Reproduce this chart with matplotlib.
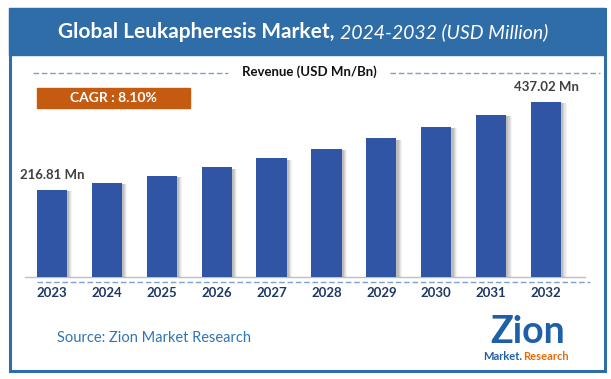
import matplotlib.pyplot as plt
from matplotlib.patches import Rectangle

plt.rcParams['font.family'] = ['Lato', 'DejaVu Sans']

# data
years = ['2023', '2024', '2025', '2026', '2027', '2028', '2029', '2030', '2031', '2032']
revenue = [216.81, 234.4, 253.4, 273.9, 296.1, 320.0, 345.9, 374.0, 404.3, 437.02]
first_label = '216.81 Mn'
last_label = '437.02 Mn'
cagr = 'CAGR : 8.10%'

W, H = 611, 379
fig = plt.figure(figsize=(W / 100, H / 100), dpi=100)

# full-figure overlay in pixel coords (y down)
bg = fig.add_axes([0, 0, 1, 1])
bg.set_xlim(0, W)
bg.set_ylim(H, 0)
bg.axis('off')

# outer frame and title band
bg.add_patch(Rectangle((9.5, 8.5), 595, 362, fill=False, ec='#2E6DA8', lw=2.2))
bg.add_patch(Rectangle((9, 8), 596, 47, color='#2E6DA8'))

t1 = bg.text(58, 32, 'Global Leukapheresis Market,', color='white', fontsize=15,
             fontweight='bold', va='center', ha='left')
fig.canvas.draw()
x_end = t1.get_window_extent().x1
bg.annotate('2024-2032 (USD Million)', xy=(x_end + 5, H - 32), xycoords='figure pixels',
            color='white', fontsize=14, fontstyle='italic', va='center', ha='left')

# revenue header with dashed lines
bg.text(309, 72, 'Revenue (USD Mn/Bn)', fontsize=9.5, fontweight='bold', color='#111111',
        ha='center', va='center')
bg.plot([33, 228], [73, 73], ls=(0, (4, 2)), color='#7F9FD0', lw=1)
bg.plot([390, 600], [73, 73], ls=(0, (4, 2)), color='#7F9FD0', lw=1)

# CAGR box
bg.add_patch(Rectangle((37, 88), 153, 20, color='#C55A11'))
bg.text(113, 98, cagr, color='white', fontsize=10, fontweight='bold', ha='center', va='center')

# baseline decoration
bg.plot([25, 585], [277, 277], color='#BFBFBF', lw=1)
bg.plot([37, 590], [282, 282], ls=(0, (4, 2)), color='#7F9FD0', lw=1)

# source
bg.text(57, 338, 'Source: Zion Market Research', fontsize=10.5, color='#2E75B6',
        ha='left', va='center')

# logo approximation
bg.text(528, 332, 'Zion', fontsize=27, fontweight='bold', color='#1F5FA8',
        ha='center', va='center')
bg.text(503, 356, 'Market.', fontsize=8, fontweight='bold', color='#1F5FA8',
        ha='center', va='center')
bg.text(546, 356, 'Research', fontsize=8, fontweight='bold', color='#E36C09',
        ha='center', va='center')

# bar chart axes
left_px, right_px = 25, 585
top_px, base_px = 80, 277
ax = fig.add_axes([left_px / W, 1 - base_px / H, (right_px - left_px) / W,
                   (base_px - top_px) / H])
ax.patch.set_alpha(0)
x = list(range(len(years)))
# soft shadow
for k, a in zip([0.10, 0.08, 0.06, 0.04], [0.08, 0.12, 0.18, 0.25]):
    ax.bar([i + k for i in x], [v - 3 for v in revenue], width=0.55, color='#7F7F7F',
           alpha=a)
ax.bar(x, revenue, width=0.55, color='#2F55A4', zorder=3)
ax.set_xlim(-0.49, 9.71)
ax.set_ylim(0, 492)
ax.axis('off')

ax.text(0, revenue[0] + 22, first_label, ha='center', va='bottom', fontsize=9.5,
        fontweight='bold', color='#404040')
ax.text(9, revenue[-1] + 22, last_label, ha='center', va='bottom', fontsize=9.5,
        fontweight='bold', color='#404040')
for i, y in enumerate(years):
    ax.text(i, -40, y, ha='center', va='center', fontsize=9.5, fontweight='bold',
            color='#1F3864', clip_on=False)

fig.savefig('out.png', dpi=100)
